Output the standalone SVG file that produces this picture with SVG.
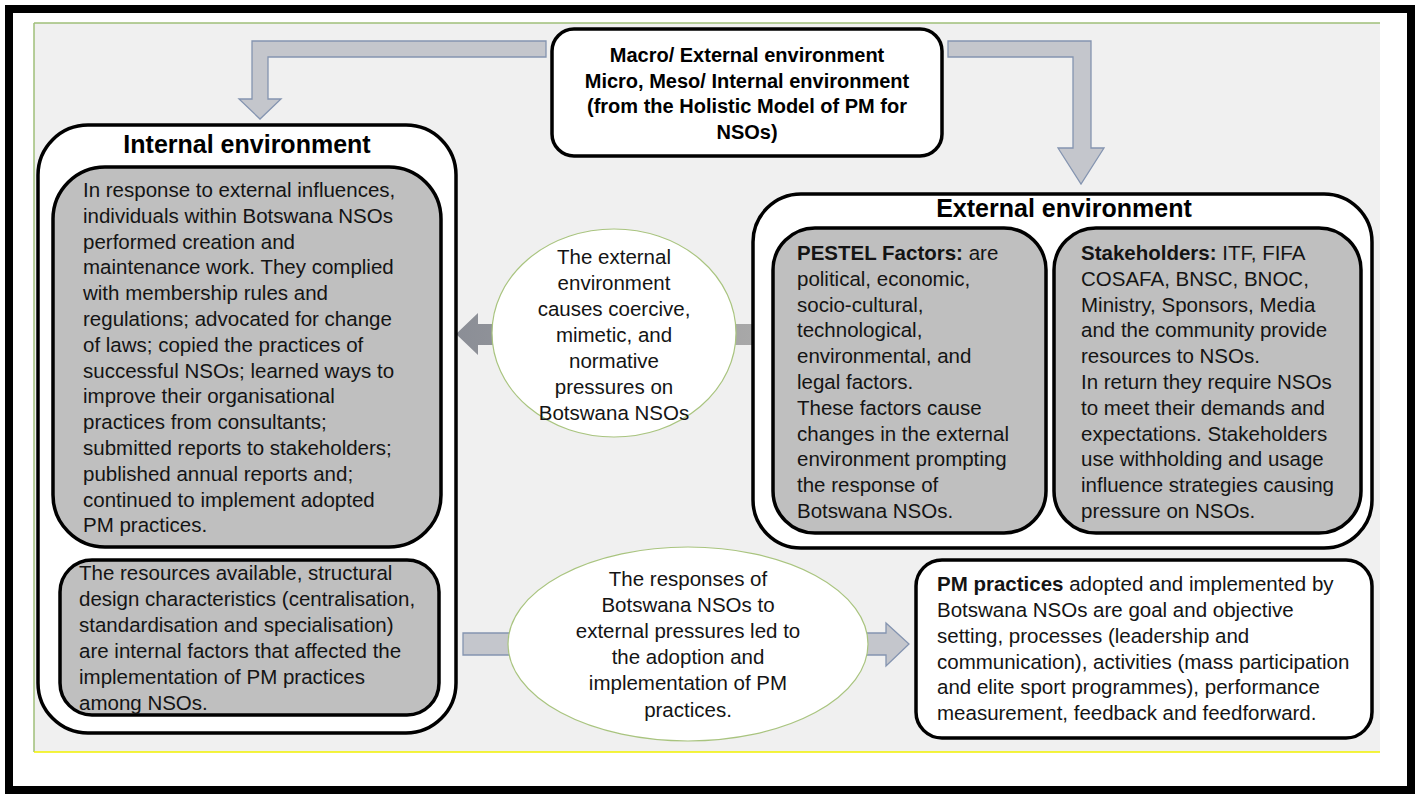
<svg xmlns="http://www.w3.org/2000/svg" width="1421" height="794" viewBox="0 0 1421 794">
<style>
.t{font-family:"Liberation Sans",Arial,sans-serif;font-size:20.5px;fill:#141414}
.c{text-anchor:middle}
.b{font-weight:bold}
.h{font-family:"Liberation Sans",Arial,sans-serif;font-size:25px;font-weight:bold;fill:#000;text-anchor:middle}
.tb{font-family:"Liberation Sans",Arial,sans-serif;font-size:20px;font-weight:bold;fill:#000;text-anchor:middle}
.wbox{fill:#fff;stroke:#000;stroke-width:3.5}
.gbox{fill:#bfbfbf;stroke:#000;stroke-width:3.5}
.ell{fill:#fff;stroke:#a9c47f;stroke-width:1.2}
.arr{fill:#c4c6cc;stroke:#8494b0;stroke-width:1.3}
</style>
<defs>
<linearGradient id="g1" x1="0" y1="0" x2="1" y2="0">
<stop offset="0" stop-color="#8b8e96"/>
<stop offset="1" stop-color="#a8a8a8"/>
</linearGradient>
</defs>
<rect x="0" y="0" width="1421" height="794" fill="#fff"/>
<rect x="9" y="9" width="1402" height="781" fill="#fff" stroke="#000" stroke-width="8"/>
<g id="panel">
<rect x="34" y="23" width="1346" height="729" fill="#f0f0f0"/>
<line x1="34" y1="23" x2="1380" y2="23" stroke="#9fbf78" stroke-width="1.5"/>
<line x1="34" y1="23" x2="34" y2="752" stroke="#9fbf78" stroke-width="1.5"/>
<line x1="34" y1="752" x2="1380" y2="752" stroke="#f2f200" stroke-width="1.5"/>
</g>
<g id="connectors">
<polygon class="arr" points="546,41 252,41 252,99 239,99 260,119 281,99 268,99 268,57 546,57"/>
<polygon class="arr" points="948,41 1091,41 1091,148 1104,148 1081,184 1058,148 1073,148 1073,57 948,57"/>
<polygon fill="url(#g1)" points="753,324 478,324 478,313 456,334 478,355 478,345 753,345"/>
<polygon class="arr" points="463,633 886,633 886,623 909,644 886,666 886,655 463,655"/>
</g>
<g id="top-box">
<rect class="wbox" x="552" y="29" width="390" height="127" rx="22"/>
<text class="tb" x="747" y="62">Macro/ External environment</text>
<text class="tb" x="747" y="88">Micro, Meso/ Internal environment</text>
<text class="tb" x="747" y="113">(from the Holistic Model of PM for</text>
<text class="tb" x="747" y="139">NSOs)</text>
</g>
<g id="internal-environment">
<rect class="wbox" x="38" y="125" width="418" height="608" rx="50"/>
<text class="h" x="247" y="153">Internal environment</text>
</g>
<g id="internal-responses">
<rect class="gbox" x="53" y="167" width="388" height="380" rx="52"/>
<text class="t" x="83" y="197">In response to external influences,</text>
<text class="t" x="83" y="222.8">individuals within Botswana NSOs</text>
<text class="t" x="83" y="248.6">performed creation and</text>
<text class="t" x="83" y="274.4">maintenance work. They complied</text>
<text class="t" x="83" y="300.2">with membership rules and</text>
<text class="t" x="83" y="326">regulations; advocated for change</text>
<text class="t" x="83" y="351.8">of laws; copied the practices of</text>
<text class="t" x="83" y="377.6">successful NSOs; learned ways to</text>
<text class="t" x="83" y="403.4">improve their organisational</text>
<text class="t" x="83" y="429.2">practices from consultants;</text>
<text class="t" x="83" y="455">submitted reports to stakeholders;</text>
<text class="t" x="83" y="480.8">published annual reports and;</text>
<text class="t" x="83" y="506.6">continued to implement adopted</text>
<text class="t" x="83" y="532.4">PM practices.</text>
</g>
<g id="internal-factors">
<rect class="gbox" x="60" y="560" width="379" height="155" rx="32"/>
<text class="t" x="79" y="580">The resources available, structural</text>
<text class="t" x="79" y="606">design characteristics (centralisation,</text>
<text class="t" x="79" y="632">standardisation and specialisation)</text>
<text class="t" x="79" y="658">are internal factors that affected the</text>
<text class="t" x="79" y="684">implementation of PM practices</text>
<text class="t" x="79" y="710">among NSOs.</text>
</g>
<g id="pressures">
<ellipse class="ell" cx="614" cy="333" rx="122" ry="104"/>
<text class="t c" x="614" y="264">The external</text>
<text class="t c" x="614" y="290">environment</text>
<text class="t c" x="614" y="316">causes coercive,</text>
<text class="t c" x="614" y="342">mimetic, and</text>
<text class="t c" x="614" y="368">normative</text>
<text class="t c" x="614" y="394">pressures on</text>
<text class="t c" x="614" y="420">Botswana NSOs</text>
</g>
<g id="external-environment">
<rect class="wbox" x="753" y="194" width="619" height="354" rx="48"/>
<text class="h" x="1064" y="217">External environment</text>
</g>
<g id="pestel">
<rect class="gbox" x="773" y="228" width="273" height="305" rx="42"/>
<text class="t" x="797" y="260"><tspan class="b">PESTEL Factors:</tspan> are</text>
<text class="t" x="797" y="285.8">political, economic,</text>
<text class="t" x="797" y="311.6">socio-cultural,</text>
<text class="t" x="797" y="337.4">technological,</text>
<text class="t" x="797" y="363.2">environmental, and</text>
<text class="t" x="797" y="389">legal factors.</text>
<text class="t" x="797" y="414.8">These factors cause</text>
<text class="t" x="797" y="440.6">changes in the external</text>
<text class="t" x="797" y="466.4">environment prompting</text>
<text class="t" x="797" y="492.2">the response of</text>
<text class="t" x="797" y="518">Botswana NSOs.</text>
</g>
<g id="stakeholders">
<rect class="gbox" x="1054" y="228" width="307" height="305" rx="42"/>
<text class="t" x="1081" y="260"><tspan class="b">Stakeholders:</tspan> ITF, FIFA</text>
<text class="t" x="1081" y="285.8">COSAFA, BNSC, BNOC,</text>
<text class="t" x="1081" y="311.6">Ministry, Sponsors, Media</text>
<text class="t" x="1081" y="337.4">and the community provide</text>
<text class="t" x="1081" y="363.2">resources to NSOs.</text>
<text class="t" x="1081" y="389">In return they require NSOs</text>
<text class="t" x="1081" y="414.8">to meet their demands and</text>
<text class="t" x="1081" y="440.6">expectations. Stakeholders</text>
<text class="t" x="1081" y="466.4">use withholding and usage</text>
<text class="t" x="1081" y="492.2">influence strategies causing</text>
<text class="t" x="1081" y="518">pressure on NSOs.</text>
</g>
<g id="responses">
<ellipse class="ell" cx="688" cy="644" rx="180" ry="97"/>
<text class="t c" x="688" y="586">The responses of</text>
<text class="t c" x="688" y="612">Botswana NSOs to</text>
<text class="t c" x="688" y="638">external pressures led to</text>
<text class="t c" x="688" y="664">the adoption and</text>
<text class="t c" x="688" y="690">implementation of PM</text>
<text class="t c" x="688" y="717">practices.</text>
</g>
<g id="pm-practices">
<rect class="wbox" x="916" y="560" width="456" height="178" rx="26"/>
<text class="t" x="937" y="591"><tspan class="b">PM practices</tspan> adopted and implemented by</text>
<text class="t" x="937" y="617">Botswana NSOs are goal and objective</text>
<text class="t" x="937" y="643">setting, processes (leadership and</text>
<text class="t" x="937" y="669">communication), activities (mass participation</text>
<text class="t" x="937" y="694">and elite sport programmes), performance</text>
<text class="t" x="937" y="720">measurement, feedback and feedforward.</text>
</g>
</svg>
